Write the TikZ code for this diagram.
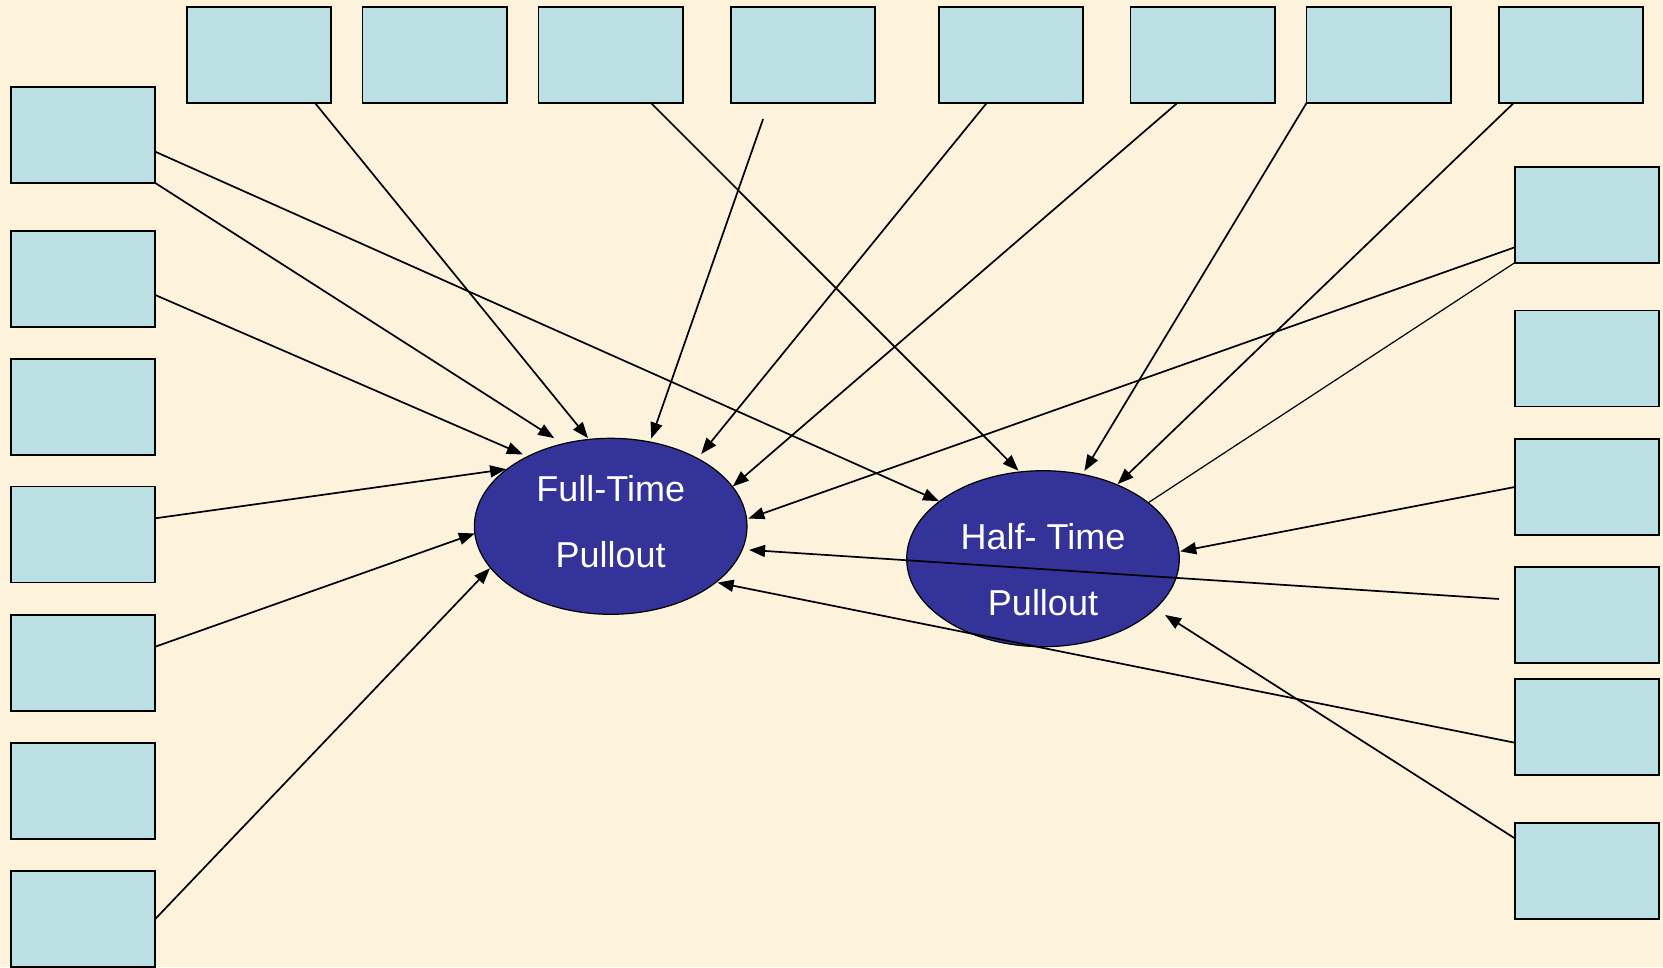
\documentclass[tikz,border=0pt]{standalone}
\usepackage{fontspec}
\setmainfont{Liberation Sans}
\usetikzlibrary{arrows.meta,shapes.geometric}
\definecolor{bgc}{RGB}{253,243,221}
\definecolor{boxc}{RGB}{187,224,227}
\definecolor{ellc}{RGB}{51,51,153}
\tikzset{
  varbox/.style={draw=black,line width=1.6pt,fill=boxc,minimum width=144.5pt,minimum height=96pt,inner sep=0pt,outer sep=0pt},
  construct/.style={ellipse,draw=black,line width=1.2pt,fill=ellc,minimum width=272.6pt,minimum height=176pt,inner sep=0pt,outer sep=0pt,text=white,font=\fontsize{36}{40}\selectfont},
  conn/.style={line width=1.7pt,-{Triangle[length=16pt,width=12pt]}},
  plainconn/.style={line width=1.2pt},
}
\newcommand{\twolines}[4]{\makebox[0pt][c]{\raisebox{#1}[0pt][0pt]{#2}}\makebox[0pt][c]{\raisebox{#3}[0pt][0pt]{#4}}}
\begin{document}
\begin{tikzpicture}[x=1pt,y=-1pt]
\useasboundingbox (0,0) rectangle (1663,967);
\fill[bgc] (0,0) rectangle (1663,967);
% left column
\node[varbox] (l1) at (83,135) {};
\node[varbox] (l2) at (83,278.9) {};
\node[varbox] (l3) at (83,406.9) {};
\node[varbox] (l4) at (83,534.5) {};
\node[varbox] (l5) at (83,662.9) {};
\node[varbox] (l6) at (83,790.7) {};
\node[varbox] (l7) at (83,919) {};
% top row
\node[varbox] (t1) at (259,55) {};
\node[varbox] (t2) at (434.7,55) {};
\node[varbox] (t3) at (610.9,55) {};
\node[varbox] (t4) at (803,55) {};
\node[varbox] (t5) at (1011,55) {};
\node[varbox] (t6) at (1202.6,55) {};
\node[varbox] (t7) at (1378.8,55) {};
\node[varbox] (t8) at (1571,55) {};
% right column
\node[varbox] (r1) at (1587,214.7) {};
\node[varbox] (r2) at (1587,358.5) {};
\node[varbox] (r3) at (1587,487) {};
\node[varbox] (r4) at (1587,614.7) {};
\node[varbox] (r5) at (1587,727) {};
\node[varbox] (r6) at (1587,871) {};
% constructs
\node[construct] (ft) at (610.7,526.3) {\twolines{25.3pt}{Full-Time}{-41.4pt}{Pullout}};
\node[construct] (ht) at (1043,558.7) {\twolines{9.7pt}{Half- Time}{-57pt}{Pullout}};
% connectors to Full-Time
\draw[conn,shorten >=10.6pt] (l1.south east) -- (ft.120.5);
\draw[conn,shorten >=5.2pt] ([yshift=-16.1pt]l2.east) -- (ft.140.6);
\draw[conn,shorten >=1.2pt] ([yshift=16.2pt]l4.east) -- (ft.151.6);
\draw[conn] ([yshift=16.2pt]l5.east) -- (ft.183.7);
\draw[conn,shorten >=0.7pt] (l7.east) -- (ft.199.0);
\draw[conn,shorten >=1.6pt] ([xshift=56pt]t1.south) -- (ft.104.8);
\draw[conn,shorten <=17pt,shorten >=3.7pt] ([xshift=-34.3pt]t4.south) -- (ft.65.75);
\draw[conn,shorten >=5.8pt] ([xshift=-24.3pt]t5.south) -- (ft.38.66);
\draw[conn,shorten >=0.5pt] ([xshift=-25.3pt]t6.south) -- (ft.18.76);
\draw[conn,shorten >=1.9pt] ([yshift=-32.6pt]r1.west) -- (ft.3.11);
\draw[conn,shorten <=16pt,shorten >=6.9pt] ([yshift=14.7pt]r4.west) -- (ft.-10.82);
\draw[conn,shorten >=1.7pt] ([yshift=-15.7pt]r5.west) -- (ft.-28.51);
% connectors to Half-Time
\draw[conn,shorten >=0.6pt] ([yshift=-16.7pt]l1.east) -- (ht.151.4);
\draw[conn,shorten >=1.8pt] ([xshift=40.1pt]t3.south) -- (ht.105.1);
\draw[conn,shorten >=4.1pt] (t7.south west) -- (ht.65.69);
\draw[conn,shorten >=0.9pt] ([xshift=-57.3pt]t8.south) -- (ht.45.2);
\draw[plainconn] (r1.south west) -- (ht.28.4);
\draw[conn,shorten >=1.4pt] (r3.west) -- (ht.3.56);
\draw[conn,shorten >=11.7pt] ([yshift=32.7pt]r6.west) -- (ht.-24.03);
\end{tikzpicture}
\end{document}
